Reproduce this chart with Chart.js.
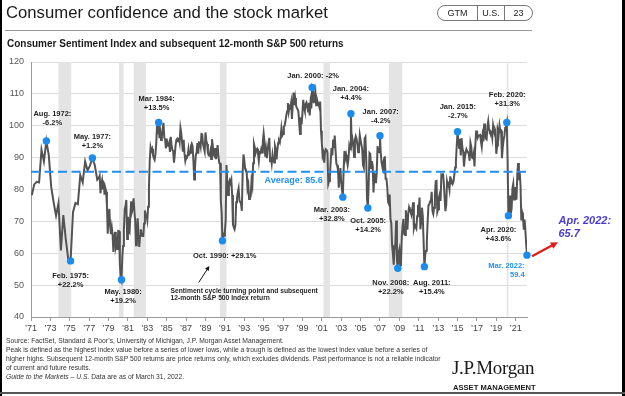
<!DOCTYPE html>
<html>
<head>
<meta charset="utf-8">
<script src="https://cdn.jsdelivr.net/npm/chart.js@4.4.1/dist/chart.umd.min.js"></script>
<style>
  html,body{margin:0;padding:0;background:#fff;}
  #wrap{position:relative;width:625px;height:396px;overflow:hidden;background:#fff;font-family:'Liberation Sans',Arial,sans-serif;color:#222;}
  canvas{position:absolute;left:0;top:0;}
  .abs{position:absolute;white-space:nowrap;}
</style>
</head>
<body>
<div id="wrap">
  <canvas id="c" width="625" height="396"></canvas>
  <div class="abs" style="left:6px;top:5px;font-size:16.7px;line-height:16.5px;color:#1a1a1a;">Consumer confidence and the stock market</div>
  <div class="abs" style="left:437px;top:5px;width:94px;height:14px;border:1px solid #777;border-radius:8px;"></div>
  <div class="abs" style="left:477px;top:5px;width:1px;height:16px;background:#777;"></div>
  <div class="abs" style="left:504px;top:5px;width:1px;height:16px;background:#777;"></div>
  <div class="abs" style="left:438px;top:7px;width:39px;text-align:center;font-size:9px;line-height:12px;">GTM</div>
  <div class="abs" style="left:478px;top:7px;width:26px;text-align:center;font-size:9px;line-height:12px;">U.S.</div>
  <div class="abs" style="left:505px;top:7px;width:27px;text-align:center;font-size:9px;line-height:12px;">23</div>
  <div class="abs" style="left:5px;top:30px;width:527px;height:1px;background:#9a9a9a;"></div>
  <div class="abs" style="left:7px;top:39px;font-size:10px;line-height:10px;font-weight:bold;color:#1a1a1a;">Consumer Sentiment Index and subsequent 12-month S&amp;P 500 returns</div>
  <div class="abs" style="left:6px;top:336px;font-size:6.75px;line-height:9.1px;color:#333;">
    Source: FactSet, Standard &amp; Poor’s, University of Michigan, J.P. Morgan Asset Management.<br>
    Peak is defined as the highest index value before a series of lower lows, while a trough is defined as the lowest index value before a series of<br>
    higher highs. Subsequent 12-month S&amp;P 500 returns are price returns only, which excludes dividends. Past performance is not a reliable indicator<br>
    of current and future results.<br>
    <i>Guide to the Markets – U.S.</i> Data are as of March 31, 2022.
  </div>
  <div class="abs" style="left:452px;top:358px;font-family:'Liberation Serif','Times New Roman',serif;font-size:19px;line-height:19px;color:#1a1a1a;letter-spacing:-0.3px;">J.P.Morgan</div>
  <div class="abs" style="left:453px;top:384px;font-size:7.6px;line-height:8px;font-weight:bold;color:#1a1a1a;">ASSET MANAGEMENT</div>
  <div class="abs" style="left:0;top:0;width:2px;height:396px;background:#000;"></div>
  <div class="abs" style="left:622px;top:0;width:3px;height:396px;background:#000;"></div>
  <div class="abs" style="left:0;top:392px;width:625px;height:2px;background:#555;"></div>
</div>
<script>
// ---------------- DATA ----------------
// University of Michigan Consumer Sentiment (quarterly Feb/May/Aug/Nov, 1971-1977)
const sentQuarterly1971_1977 = [
  78.2, 81.6, 82.4, 82.2,
  92.5, 88.8, 95.2, 90.8,
  80.8, 76.0, 71.8, 75.7,
  60.9, 72.0, 64.5, 58.4,
  57.6, 72.9, 75.8, 75.4,
  84.5, 82.2, 88.8, 86.0,
  87.5, 89.9, 87.6, 83.1
];
// Monthly 1978-1989
const sentMonthly1978_1989 = [
  83.7,84.3,78.8,81.6,82.9,80.0,82.4,78.4,80.4,79.3,75.0,66.1,
  72.1,73.9,68.4,66.0,68.1,65.8,60.4,64.5,66.7,62.1,63.3,61.0,
  67.0,66.9,56.5,52.7,51.7,58.7,62.3,67.3,73.7,75.0,76.7,64.5,
  71.4,66.9,66.5,72.4,76.3,73.1,74.1,77.2,73.1,70.3,62.5,64.3,
  71.0,66.5,62.0,65.5,67.5,65.7,65.4,65.4,69.3,73.4,72.1,71.9,
  70.4,74.6,80.8,89.1,93.3,92.2,92.8,90.9,89.9,89.3,91.1,94.2,
  100.1,97.4,101.0,96.1,98.1,95.5,96.6,99.1,100.9,96.3,95.7,92.9,
  96.0,93.7,93.7,94.6,91.8,96.5,94.0,92.4,92.1,88.4,90.9,93.9,
  95.6,95.9,95.1,96.2,94.8,99.3,97.7,94.9,91.9,95.6,91.4,89.1,
  90.4,90.2,90.8,92.8,91.1,91.5,93.7,94.4,93.6,89.3,83.1,86.8,
  90.8,91.6,94.6,91.2,94.8,94.7,93.4,97.4,97.3,94.1,93.0,91.9,
  97.9,95.4,94.3,91.5,90.7,90.6,92.0,89.6,95.8,93.9,90.9,90.5
];
// Monthly 1990-1999
const sentMonthly1990_1999 = [
  93.0,89.5,91.3,93.9,90.6,88.3,88.2,76.4,72.8,63.9,66.0,65.5,
  66.8,70.4,87.7,81.8,78.3,82.1,82.9,82.0,83.0,78.3,69.1,68.2,
  67.5,68.8,76.0,77.2,79.2,80.4,76.6,76.1,75.6,73.3,85.3,91.0,
  89.3,86.6,85.9,85.6,80.3,81.5,77.0,77.3,77.9,82.7,81.2,88.2,
  94.3,93.2,91.5,92.6,92.8,91.2,89.0,91.7,91.5,92.7,91.6,95.1,
  97.6,95.1,90.3,92.5,89.8,92.7,94.4,96.2,88.9,90.2,88.2,91.0,
  89.3,88.5,93.7,92.7,89.4,92.4,94.7,95.3,94.7,96.5,99.2,96.9,
  97.4,99.7,100.0,101.4,103.2,104.5,107.1,104.4,106.0,105.6,107.2,102.1,
  106.6,110.4,106.5,108.7,106.5,105.6,105.2,104.4,100.9,97.4,102.7,100.5,
  103.9,108.1,105.7,104.6,106.8,107.3,106.0,104.5,107.2,103.2,107.2,105.4
];
// Monthly 2000-2009
const sentMonthly2000_2009 = [
  112.0,111.3,107.1,109.2,110.7,106.4,108.3,107.3,106.8,105.8,107.6,98.4,
  94.7,90.6,91.5,88.4,92.0,92.6,92.4,91.5,81.8,82.7,83.9,88.8,
  93.0,90.7,95.7,93.0,96.9,92.4,88.1,87.6,86.1,80.6,84.2,86.7,
  82.4,79.9,77.6,86.0,92.1,89.7,90.9,89.3,87.7,89.6,93.7,92.6,
  103.8,94.4,95.8,94.2,90.2,95.6,96.7,95.9,94.2,91.7,92.8,97.1,
  95.5,94.1,92.6,87.7,86.9,96.0,96.5,89.1,76.9,74.2,81.6,91.5,
  91.2,86.7,88.9,87.4,79.1,84.9,84.7,82.0,85.4,93.6,92.1,91.7,
  96.9,91.3,88.4,87.1,88.3,85.3,90.4,83.4,83.4,80.9,76.1,75.5,
  78.4,70.8,69.5,62.6,59.8,56.4,61.2,63.0,70.3,57.6,55.3,60.1,
  61.2,56.3,57.3,65.1,68.7,70.8,66.0,65.7,73.5,70.6,67.4,72.5
];
// Monthly 2010-Mar 2022
const sentMonthly2010_2022 = [
  74.4,73.6,73.6,72.2,73.6,76.0,67.8,68.9,68.2,67.7,71.6,74.5,
  74.2,77.5,67.5,69.8,74.3,71.5,63.7,55.8,59.5,60.8,63.7,69.9,
  75.0,75.3,76.2,76.4,79.3,73.2,72.3,74.3,78.3,82.6,82.7,72.9,
  73.8,77.6,78.6,76.4,84.5,84.1,85.1,82.1,77.5,73.2,75.1,82.5,
  81.2,81.6,80.0,84.1,81.9,82.5,81.8,82.5,84.6,86.9,88.8,93.6,
  98.1,95.4,93.0,95.9,90.7,96.1,93.1,91.9,87.2,90.0,91.3,92.6,
  92.0,91.7,91.0,89.0,94.7,93.5,90.0,89.8,91.2,87.2,93.8,98.2,
  98.5,96.3,96.9,97.0,97.1,95.0,93.4,96.8,95.1,100.7,98.5,95.9,
  95.7,99.7,101.4,98.8,98.0,98.2,97.9,96.2,100.1,98.6,97.5,98.3,
  91.2,93.8,98.4,97.2,100.0,98.2,98.4,89.8,93.2,95.5,96.8,99.3,
  99.8,101.0,89.1,71.8,72.3,78.1,72.5,74.1,80.4,81.8,76.9,80.7,
  79.0,76.8,84.9,88.3,82.9,85.5,81.2,70.3,72.8,71.7,67.4,70.6,
  67.2,62.8,59.4
];
const averageValue = 85.6;

// Turning points
const turnDates = ['1972-08','1975-02','1977-05','1980-05','1984-03','1990-10','2000-01','2003-03','2004-01','2005-10','2007-01','2008-11','2011-08','2015-01','2020-02','2020-04','2022-03'];
const turnLabels = [
  ['Aug. 1972:','-6.2%'], ['Feb. 1975:','+22.2%'], ['May. 1977:','+1.2%'], ['May. 1980:','+19.2%'],
  ['Mar. 1984:','+13.5%'], ['Oct. 1990: +29.1%'], ['Jan. 2000: -2%'], ['Mar. 2003:','+32.8%'],
  ['Jan. 2004:','+4.4%'], ['Oct. 2005:','+14.2%'], ['Jan. 2007:','-4.2%'], ['Nov. 2008:','+22.2%'],
  ['Aug. 2011:','+15.4%'], ['Jan. 2015:','-2.7%'], ['Feb. 2020:','+31.3%'], ['Apr. 2020:','+43.6%'],
  ['Mar. 2022:','59.4']
];
const latestLabel = ['Apr. 2022:', '65.7'];
const recessions = [[1973.83,1975.15],[1980.08,1980.55],[1981.6,1982.85],[1990.5,1991.17],[2001.17,2001.83],[2007.92,2009.3],[2020.08,2020.25]];
const xTickYears = [1971,1973,1975,1977,1979,1981,1983,1985,1987,1989,1991,1993,1995,1997,1999,2001,2003,2005,2007,2009,2011,2013,2015,2017,2019,2021];
const noteText = ['Sentiment cycle turning point and subsequent','12-month S&P 500 Index return'];

// ---------------- BUILD ----------------
const ym = s => { const [y,m] = s.split('-').map(Number); return y + (m-1)/12; };
const series = [];
sentQuarterly1971_1977.forEach((v,i) => series.push({x: 1971 + Math.floor(i/4) + (1 + 3*(i%4))/12, y: v}));
[[1978,sentMonthly1978_1989],[1990,sentMonthly1990_1999],[2000,sentMonthly2000_2009],[2010,sentMonthly2010_2022]]
  .forEach(([y0,arr]) => arr.forEach((v,i) => series.push({x: y0 + i/12, y: v})));
const lookup = new Map(series.map(p => [Math.round(p.x*12), p.y]));
const turnPoints = turnDates.map(d => ({x: ym(d), y: lookup.get(Math.round(ym(d)*12))}));
const xMin = 1971, xMax = series[series.length-1].x;

// label layout (pixel offsets from dot): [dx, dy of first line, align, color]
const labelLayout = [
  [6,-27,'center'],[0,15,'center'],[0,-21.5,'center'],[1.6,12.6,'center'],
  [-2,-24,'center'],[2.3,15.6,'center'],[1,-11.5,'center'],[-11,13,'center'],
  [0,-24.7,'center'],[0.3,13.3,'center'],[0.7,-23.6,'center'],[-7,15,'center'],
  [7.4,16,'center'],[0.3,-24.7,'center'],[0.4,-28,'center'],[-10,14,'center'],
  [-2.4,11,'right','#1e90ff']
];

const FONT = "'Liberation Sans', Arial, sans-serif";

function arrow(ctx, x1, y1, x2, y2, color, w, head) {
  ctx.save();
  ctx.strokeStyle = color; ctx.fillStyle = color; ctx.lineWidth = w;
  const ang = Math.atan2(y2-y1, x2-x1);
  ctx.beginPath(); ctx.moveTo(x1,y1); ctx.lineTo(x2 - Math.cos(ang)*head*0.6, y2 - Math.sin(ang)*head*0.6); ctx.stroke();
  ctx.beginPath();
  ctx.moveTo(x2,y2);
  ctx.lineTo(x2 - head*Math.cos(ang-0.45), y2 - head*Math.sin(ang-0.45));
  ctx.lineTo(x2 - head*Math.cos(ang+0.45), y2 - head*Math.sin(ang+0.45));
  ctx.closePath(); ctx.fill();
  ctx.restore();
}

const decor = {
  id: 'decor',
  beforeDatasetsDraw(chart) {
    const {ctx, chartArea: a, scales: {x}} = chart;
    ctx.save();
    ctx.fillStyle = '#e4e4e4';
    recessions.forEach(([s,e]) => {
      const x0 = x.getPixelForValue(s), x1 = x.getPixelForValue(e);
      ctx.fillRect(x0, a.top, Math.max(x1-x0, 1.6), a.bottom - a.top);
    });
    ctx.restore();
  },
  afterDatasetsDraw(chart) {
    const {ctx, scales: {x, y}} = chart;
    ctx.save();
    ctx.textBaseline = 'middle';
    // turning point labels
    turnPoints.forEach((p,i) => {
      const px = x.getPixelForValue(p.x), py = y.getPixelForValue(p.y);
      const [dx, dy, align, color] = labelLayout[i];
      ctx.font = 'bold 7.5px ' + FONT;
      ctx.fillStyle = color || '#1f1f1f';
      ctx.textAlign = align;
      turnLabels[i].forEach((t,k) => ctx.fillText(t, px+dx, py+dy+k*9));
    });
    // average label
    const ay = y.getPixelForValue(averageValue);
    ctx.font = 'bold 9px ' + FONT;
    ctx.fillStyle = '#1e90ff';
    ctx.textAlign = 'center';
    ctx.fillText('Average: ' + averageValue.toFixed(1), x.getPixelForValue(1998.1), ay + 9);
    // note
    const nx = x.getPixelForValue(1985.4);
    ctx.font = 'bold 6.7px ' + FONT;
    ctx.fillStyle = '#1f1f1f';
    ctx.textAlign = 'left';
    ctx.fillText(noteText[0], nx, 291);
    ctx.fillText(noteText[1], nx, 298);
    arrow(ctx, x.getPixelForValue(1988.3), 282.5, x.getPixelForValue(1989.4), 266, '#111', 1, 5);
    // latest value + red arrow
    const last = turnPoints[turnPoints.length-1];
    const lx = x.getPixelForValue(last.x), ly = y.getPixelForValue(last.y);
    arrow(ctx, lx+5, ly+1, lx+31, ly-13, '#e31b1b', 2.2, 8);
    ctx.font = 'italic bold 11px ' + FONT;
    ctx.fillStyle = '#4a3dcc';
    ctx.textAlign = 'left';
    ctx.fillText(latestLabel[0], lx+31.5, ly-34.5);
    ctx.fillText(latestLabel[1], lx+31.5, ly-21.3);
    ctx.restore();
  }
};

new Chart(document.getElementById('c'), {
  type: 'line',
  data: {
    datasets: [
      { label: 'Turning points', data: turnPoints, showLine: false, pointRadius: 3.7, pointBackgroundColor: '#1a8cf0', pointBorderWidth: 0, order: 0, clip: 10 },
      { label: 'Average', data: [{x: xMin, y: averageValue}, {x: xMax, y: averageValue}], borderColor: '#1e8ff5', borderWidth: 2, borderDash: [9,4.5], pointRadius: 0, order: 1 },
      { label: 'Consumer Sentiment', data: series, borderColor: '#535353', borderWidth: 2, pointRadius: 0, tension: 0, order: 2 }
    ]
  },
  options: {
    responsive: false,
    animation: false,
    devicePixelRatio: 1,
    layout: { padding: { top: 62, right: 98, left: 0, bottom: 0 } },
    plugins: { legend: { display: false }, tooltip: { enabled: false }, title: { display: false } },
    scales: {
      x: {
        type: 'linear', min: xMin, max: xMax,
        afterBuildTicks: s => { s.ticks = xTickYears.map(v => ({value: v})); },
        afterFit: s => { s.height = 79; },
        ticks: { autoSkip: false, maxRotation: 0, padding: 2, color: '#444', font: { size: 9, family: FONT },
                 callback: v => '\u2019' + String(v).slice(2) },
        grid: { drawOnChartArea: false, drawTicks: true, tickLength: 4, color: '#999' },
        border: { display: true, color: '#999', width: 1 }
      },
      y: {
        min: 40, max: 120,
        afterFit: s => { s.width = 31; },
        ticks: { stepSize: 10, padding: 7, color: '#555', font: { size: 9, family: FONT } },
        grid: { color: '#dcdcdc', drawTicks: false, lineWidth: 1 },
        border: { display: true, color: '#999', width: 1 }
      }
    }
  },
  plugins: [decor]
});
</script>
</body>
</html>
